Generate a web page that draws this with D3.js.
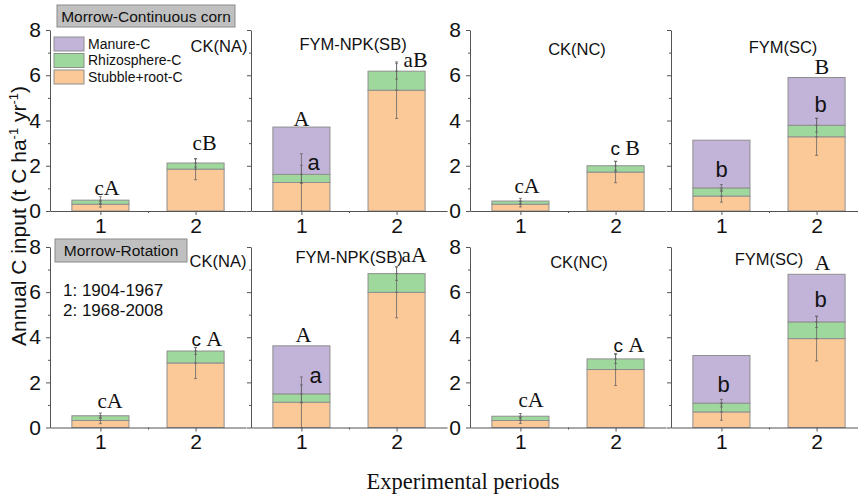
<!DOCTYPE html>
<html>
<head>
<meta charset="utf-8">
<script src="https://cdn.jsdelivr.net/npm/d3@7"></script>
<style>
  html, body { margin: 0; padding: 0; background: #fff; }
  svg { display: block; }
</style>
</head>
<body>
<svg id="chart" width="858" height="497"></svg>
<script>
// ---------------- DATA ----------------
const rowTitles = ["Morrow-Continuous corn", "Morrow-Rotation"];
const panelNames = ["CK(NA)", "FYM-NPK(SB)", "CK(NC)", "FYM(SC)"];
const periods = [1, 2];
const seriesNames = ["Manure-C", "Rhizosphere-C", "Stubble+root-C"];
const periodNotes = ["1: 1904-1967", "2: 1968-2008"];
const yTicks = [0, 2, 4, 6, 8];
const yMinorTicks = [1, 3, 5, 7];

// values per panel: [period1, period2]
const stubbleCorn     = [[0.30, 1.85], [1.26, 5.34], [0.30, 1.72], [0.66, 3.28]];
const rhizoCorn       = [[0.18, 0.27], [0.36, 0.84], [0.14, 0.28], [0.36, 0.51]];
const manureCorn      = [[0, 0],       [2.09, 0],    [0, 0],       [2.11, 2.11]];
const errStubbleCorn  = [[0.13, 0.47], [1.27, 1.25], [0.12, 0.47], [0.27, 0.82]];
const errRhizoCorn    = [[0.15, 0.18], [0.40, 0.35], [0.12, 0.20], [0.15, 0.30]];

const stubbleRot      = [[0.31, 2.86], [1.12, 5.99], [0.31, 2.57], [0.69, 3.94]];
const rhizoRot        = [[0.21, 0.53], [0.37, 0.83], [0.19, 0.47], [0.39, 0.74]];
const manureRot       = [[0, 0],       [2.13, 0],    [0, 0],       [2.11, 2.11]];
const errStubbleRot   = [[0.14, 0.69], [1.12, 1.13], [0.13, 0.71], [0.37, 0.99]];
const errRhizoRot     = [[0.12, 0.15], [0.40, 0.30], [0.12, 0.20], [0.17, 0.25]];

// significance letters: [row, panel, period, anchor value, lower-case part, upper-case part]
const lettersTop = [
  [0, 0, 1, 0.71, "c", "A"], [0, 0, 2, 2.70, "c", "B"],
  [0, 1, 1, 3.76, "", "A"],  [0, 1, 2, 6.36, "a", "B"],
  [0, 2, 1, 0.80, "c", "A"], [0, 2, 2, 2.48, "c ", "B"],
  [0, 3, 2, 6.06, "", "B"],
  [1, 0, 1, 0.86, "c", "A"], [1, 0, 2, 3.61, "c ", "A"],
  [1, 1, 1, 3.79, "", "A"],  [1, 1, 2, 7.34, "a", "A"],
  [1, 2, 1, 0.91, "c", "A"], [1, 2, 2, 3.35, "c ", "A"],
  [1, 3, 2, 6.98, "", "A"]
];
// manure letters inside bars: [row, panel, period, anchor value, text]
const lettersManure = [
  [0, 1, 1, 1.81, "a"], [0, 3, 1, 1.50, "b"], [0, 3, 2, 4.38, "b"],
  [1, 1, 1, 1.97, "a"], [1, 3, 1, 1.57, "b"], [1, 3, 2, 5.34, "b"]
];

// ---------------- STYLE / LAYOUT ----------------
const colors = { manure: "#c2b3d9", rhizo: "#9fd89c", stubble: "#fbc898" };
const barStroke = "#8f8f8f";
const axisColor = "#555";
const sans = "Liberation Sans, Arial, sans-serif";
const serif = "Liberation Serif, Times New Roman, serif";

const panelLeft = [50, 251, 470, 671];
const panelW = 196;
const rowZero = [211, 427.5];
const rowTop = [30, 247];
const labelDx = {
  "0,0,1": -6, "0,0,2": -3, "0,1,1": -8, "0,1,2": 7, "0,2,1": -6, "0,2,2": -5, "0,3,2": -2,
  "1,0,1": -3, "1,0,2": -4, "1,1,1": -6, "1,1,2": 5, "1,2,1": -2, "1,2,2": -2, "1,3,2": -2
};
const manureDx = { "0,1,1": 6, "0,3,1": -6, "0,3,2": -2, "1,1,1": 8, "1,3,1": -4, "1,3,2": -2 };

const svg = d3.select("#chart");

const rowData = [
  { s: stubbleCorn, r: rhizoCorn, m: manureCorn, es: errStubbleCorn, er: errRhizoCorn },
  { s: stubbleRot, r: rhizoRot, m: manureRot, es: errStubbleRot, er: errRhizoRot }
];

const scales = {};

rowData.forEach((rd, ri) => {
  panelNames.forEach((pn, pi) => {
    const L = panelLeft[pi];
    const x = d3.scaleLinear().domain([0.47, 2.53]).range([L, L + panelW]);
    const y = d3.scaleLinear().domain([0, 8]).range([rowZero[ri], rowTop[ri]]);
    scales[ri + "," + pi] = { x, y };
    const g = svg.append("g");
    const bw = x(1.3) - x(0.7);

    periods.forEach((per, k) => {
      const S = rd.s[pi][k], R = rd.r[pi][k], M = rd.m[pi][k];
      const segs = [
        { y0: 0, y1: S, c: colors.stubble },
        { y0: S, y1: S + R, c: colors.rhizo },
        { y0: S + R, y1: S + R + M, c: colors.manure }
      ].filter(d => d.y1 > d.y0);
      g.selectAll(null).data(segs).enter().append("rect")
        .attr("x", x(per) - bw / 2)
        .attr("width", bw)
        .attr("y", d => y(d.y1))
        .attr("height", d => y(d.y0) - y(d.y1))
        .attr("fill", d => d.c)
        .attr("stroke", barStroke)
        .attr("stroke-width", 1);

      // error bars
      const errs = [
        { c: S, e: rd.es[pi][k] },
        { c: S + R, e: rd.er[pi][k] }
      ];
      errs.forEach(eb => {
        const lo = Math.max(0, eb.c - eb.e), hi = eb.c + eb.e;
        const cx = x(per);
        g.append("line").attr("x1", cx).attr("x2", cx)
          .attr("y1", y(lo)).attr("y2", y(hi))
          .attr("stroke", "#666").attr("stroke-width", 0.8);
        [lo, hi, eb.c].forEach(v => {
          g.append("line").attr("x1", cx - 1.5).attr("x2", cx + 1.5)
            .attr("y1", y(v)).attr("y2", y(v))
            .attr("stroke", "#666").attr("stroke-width", 0.8);
        });
      });
    });

    // axes
    const showLabels = (pi === 0 || pi === 2);
    const yAxis = d3.axisLeft(y).tickValues(yTicks).tickSize(4).tickSizeOuter(0).tickPadding(5)
      .tickFormat(showLabels ? d3.format("d") : () => "");
    const ya = g.append("g").attr("transform", `translate(${L},0)`).call(yAxis);
    const yMinor = d3.axisLeft(y).tickValues(yMinorTicks).tickSize(2).tickSizeOuter(0).tickFormat(() => "");
    const ym = g.append("g").attr("transform", `translate(${L},0)`).call(yMinor);
    ym.select(".domain").remove();

    const xAxis = d3.axisBottom(x).tickValues(periods).tickSize(4).tickSizeOuter(0).tickPadding(3)
      .tickFormat(d3.format("d"));
    const xa = g.append("g").attr("transform", `translate(0,${rowZero[ri]})`).call(xAxis);
    const xMinor = d3.axisBottom(x).tickValues([1.5]).tickSize(2).tickSizeOuter(0).tickFormat(() => "");
    const xm = g.append("g").attr("transform", `translate(0,${rowZero[ri]})`).call(xMinor);
    xm.select(".domain").remove();

    [ya, ym, xa, xm].forEach(a => {
      a.selectAll(".domain, line").attr("stroke", axisColor).attr("stroke-width", 1);
      a.selectAll("text").attr("font-family", sans).attr("font-size", 21).attr("fill", "#111");
    });
  });
});

// panel titles
const titlePos = [
  [[219, 52], [353, 50], [577, 55], [783, 53]],
  [[218, 267], [349, 263], [579, 268], [769, 265]]
];
rowTitles.forEach((rt, ri) => {
  panelNames.forEach((pn, pi) => {
    svg.append("text").attr("x", titlePos[ri][pi][0]).attr("y", titlePos[ri][pi][1])
      .attr("text-anchor", "middle").attr("font-family", sans).attr("font-size", 16.5)
      .attr("fill", "#111").text(pn);
  });
});

// row header boxes
const headerBox = [[57, 5, 178, 22], [55, 239, 132, 23]];
rowTitles.forEach((rt, ri) => {
  const b = headerBox[ri];
  svg.append("rect").attr("x", b[0]).attr("y", b[1]).attr("width", b[2]).attr("height", b[3])
    .attr("fill", "#c0c0c0").attr("stroke", "#8a8a8a").attr("stroke-width", 1);
  svg.append("text").attr("x", b[0] + b[2] / 2).attr("y", b[1] + 17)
    .attr("text-anchor", "middle").attr("font-family", sans).attr("font-size", 15.5)
    .attr("fill", "#111").text(rt);
});

// legend
const legColors = [colors.manure, colors.rhizo, colors.stubble];
seriesNames.forEach((n, i) => {
  const yy = 37 + i * 16.5;
  svg.append("rect").attr("x", 54).attr("y", yy).attr("width", 30).attr("height", 14)
    .attr("fill", legColors[i]).attr("stroke", barStroke).attr("stroke-width", 1);
  svg.append("text").attr("x", 88).attr("y", yy + 11.5).attr("font-family", sans)
    .attr("font-size", 14).attr("fill", "#111").text(n);
});

// period notes
periodNotes.forEach((t, i) => {
  svg.append("text").attr("x", 63).attr("y", 296 + i * 20).attr("font-family", sans)
    .attr("font-size", 17).attr("fill", "#111").text(t);
});

// significance letters
lettersTop.forEach(([ri, pi, per, v, lo, up]) => {
  const { x, y } = scales[ri + "," + pi];
  const t = svg.append("text").attr("x", x(per) + labelDx[ri + "," + pi + "," + per]).attr("y", y(v))
    .attr("fill", "#111");
  if (lo) t.append("tspan").attr("font-family", lo.length > 1 ? sans : serif).attr("font-size", lo.length > 1 ? 19 : 21).text(lo);
  t.append("tspan").attr("font-family", serif).attr("font-size", 22).text(up);
});
lettersManure.forEach(([ri, pi, per, v, txt]) => {
  const { x, y } = scales[ri + "," + pi];
  svg.append("text").attr("x", x(per) + manureDx[ri + "," + pi + "," + per]).attr("y", y(v))
    .attr("font-family", sans).attr("font-size", 22).attr("fill", "#111").text(txt);
});

// axis titles
svg.append("text")
  .attr("transform", "translate(26,216) rotate(-90)")
  .attr("text-anchor", "middle").attr("font-family", sans).attr("font-size", 21).attr("fill", "#111")
  .call(t => {
    t.append("tspan").text("Annual C input (t C ha");
    t.append("tspan").attr("font-size", 13).attr("dy", -8).text("-1");
    t.append("tspan").attr("dy", 8).text(" yr");
    t.append("tspan").attr("font-size", 13).attr("dy", -8).text("-1");
    t.append("tspan").attr("dy", 8).text(")");
  });

svg.append("text").attr("x", 463).attr("y", 489).attr("text-anchor", "middle")
  .attr("font-family", serif).attr("font-size", 22.5).attr("fill", "#111").text("Experimental periods");
</script>
</body>
</html>
